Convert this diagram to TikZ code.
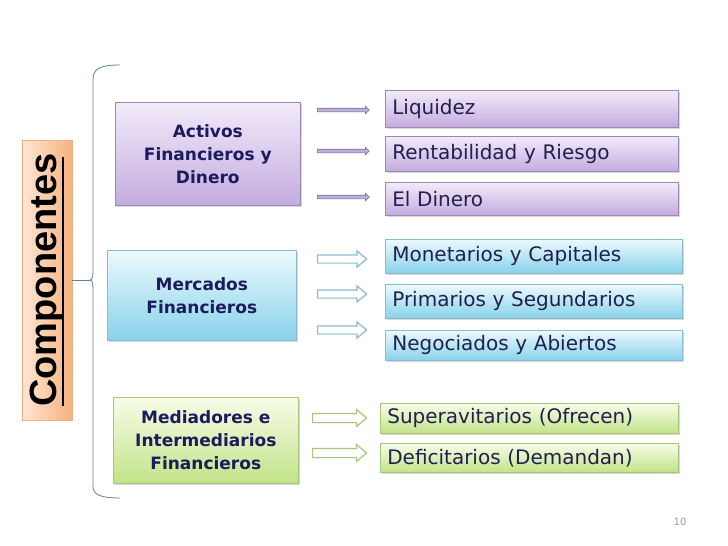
\documentclass[tikz,border=0pt]{standalone}
\usepackage{fontspec}
\setmainfont{DejaVu Sans}
\newfontfamily\compfont{Liberation Sans}
\usetikzlibrary{shapes.arrows,shadows}

\definecolor{navy}{HTML}{1B1B5E}
\definecolor{txtdark}{HTML}{20204F}
\definecolor{purtop}{HTML}{F2EBFA}
\definecolor{purbot}{HTML}{C4ABDF}
\definecolor{purline}{HTML}{9A88B6}
\definecolor{purdark}{HTML}{7D6BA0}
\definecolor{purarrow}{HTML}{BCAED6}
\definecolor{cyntop}{HTML}{ECFAFD}
\definecolor{cynbot}{HTML}{88D2EA}
\definecolor{cynline}{HTML}{86BCCC}
\definecolor{grntop}{HTML}{F8FCE8}
\definecolor{grnbot}{HTML}{C2E388}
\definecolor{grnline}{HTML}{A6C67A}
\definecolor{orgtop}{HTML}{FDE7D4}
\definecolor{orgbot}{HTML}{F6B27F}
\definecolor{orgline}{HTML}{EDB07E}
\definecolor{bracecol}{HTML}{5F7FA3}

\tikzset{
  box/.style={draw, line width=0.6pt, anchor=north west,
    drop shadow={shadow xshift=2pt, shadow yshift=-2pt, opacity=0.3}},
  mainbox/.style={box, align=center, text=navy,
    font=\fontsize{17}{23}\selectfont\bfseries},
  itembox/.style={box, text width=#1, align=left, inner xsep=7pt, inner ysep=2pt,
    text=txtdark, font=\fontsize{20}{24}\selectfont},
  itembox/.default=279pt,
  purfill/.style={draw=purline, top color=purtop, bottom color=purbot},
  cynfill/.style={draw=cynline, top color=cyntop, bottom color=cynbot},
  grnfill/.style={draw=grnline, top color=grntop, bottom color=grnbot},
  parrow/.style={single arrow, anchor=tail, draw=purdark, fill=purarrow, line width=0.6pt,
    inner xsep=0pt, inner ysep=1.5pt, single arrow head extend=2pt,
    single arrow tip angle=90, minimum height=52pt},
  harrow/.style={single arrow, anchor=tail, draw=#1, fill=white, line width=1.2pt,
    inner xsep=0pt, single arrow head extend=4pt, single arrow tip angle=80}
}

\begin{document}
\begin{tikzpicture}[x=1pt, y=-1pt]
  \useasboundingbox[fill=white] (0,0) rectangle (728,546);

  % left title
  \node[draw=orgline, line width=0.6pt, rotate=90, minimum width=280pt, minimum height=50pt,
    left color=orgtop, right color=orgbot, font=\compfont\fontsize{38}{40}\selectfont\bfseries]
    (comp) at (47,280) {Componentes};
  \draw[line width=2pt] (63,157) -- (63,406);

  % brace
  \coordinate (tip) at (90,280);
  \draw[bracecol, line width=0.8pt] (120,65) .. controls (99,65) and (93,69) .. (93,80)
    -- (93,271) .. controls (93,277) and (92,280) .. (tip)
    .. controls (92,280) and (93,283) .. (93,289) -- (93,486)
    .. controls (93,494) and (99,498) .. (120,498);
  \draw[bracecol, line width=0.8pt] (tip) -- (comp.south);

  % main groups
  \node[mainbox, purfill, minimum width=185pt, minimum height=103pt] (act) at (115,102)
    {Activos\\Financieros y\\Dinero};
  \node[mainbox, cynfill, minimum width=189pt, minimum height=90pt] (mer) at (107,250)
    {Mercados\\Financieros};
  \node[mainbox, grnfill, minimum width=185pt, minimum height=86pt] (med) at (113,397)
    {Mediadores e\\Intermediarios\\Financieros};

  % items
  \node[itembox, purfill, minimum height=37pt] (liq) at (385,90) {Liquidez};
  \node[itembox, purfill, minimum height=35pt] (ren) at (385,136) {Rentabilidad y Riesgo};
  \node[itembox, purfill, minimum height=33pt] (din) at (385,182) {El Dinero};

  \node[itembox=283pt, cynfill, minimum height=34pt] (mon) at (385,239) {Monetarios y Capitales};
  \node[itembox=283pt, cynfill, minimum height=34pt] (pri) at (385,284) {Primarios y Segundarios};
  \node[itembox=283pt, cynfill, minimum height=30pt] (neg) at (385,330) {Negociados y Abiertos};

  \node[itembox=284pt, grnfill, minimum height=30pt] (sup) at (380,403) {Superavitarios (Ofrecen)};
  \node[itembox=284pt, grnfill, minimum height=29pt] (def) at (380,443) {Deficitarios (Demandan)};

  % arrows
  \node[parrow] (a1) at (317,110) {};
  \node[parrow] (a2) at (317,151) {};
  \node[parrow] (a3) at (317,197) {};
  \node[harrow=cynline, inner ysep=3.5pt, minimum height=49pt] (b1) at (317,259) {};
  \node[harrow=cynline, inner ysep=3.5pt, minimum height=49pt] (b2) at (317,294) {};
  \node[harrow=cynline, inner ysep=3.5pt, minimum height=49pt] (b3) at (317,330) {};
  \node[harrow=grnline, inner ysep=4pt, minimum height=54pt] (c1) at (312,418) {};
  \node[harrow=grnline, inner ysep=4pt, minimum height=54pt] (c2) at (312,453) {};

  % page number
  \node[text=gray!80, font=\fontsize{10}{12}\selectfont] (pg) at (680,522) {10};
\end{tikzpicture}
\end{document}
